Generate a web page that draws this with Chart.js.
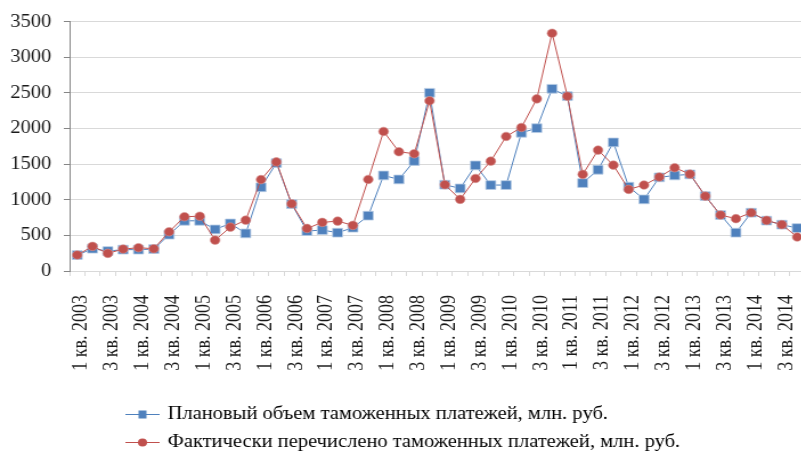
<!DOCTYPE html>
<html>
<head>
<meta charset="utf-8">
<script src="https://cdn.jsdelivr.net/npm/chart.js@4/dist/chart.umd.min.js"></script>
<style>
  html, body { margin: 0; padding: 0; background: #fff; overflow: hidden; }
  /* the reference is slightly wider than tall in its glyphs and marks */
  #wrap { width: 715px; height: 459px; transform: scaleX(1.14); transform-origin: 0 0; }
</style>
</head>
<body>
<div id="wrap"><canvas id="chart" width="715" height="459"></canvas></div>
<script>
// ---- data ----
const quarters = [
  "1 кв. 2003", "2 кв. 2003", "3 кв. 2003", "4 кв. 2003",
  "1 кв. 2004", "2 кв. 2004", "3 кв. 2004", "4 кв. 2004",
  "1 кв. 2005", "2 кв. 2005", "3 кв. 2005", "4 кв. 2005",
  "1 кв. 2006", "2 кв. 2006", "3 кв. 2006", "4 кв. 2006",
  "1 кв. 2007", "2 кв. 2007", "3 кв. 2007", "4 кв. 2007",
  "1 кв. 2008", "2 кв. 2008", "3 кв. 2008", "4 кв. 2008",
  "1 кв. 2009", "2 кв. 2009", "3 кв. 2009", "4 кв. 2009",
  "1 кв. 2010", "2 кв. 2010", "3 кв. 2010", "4 кв. 2010",
  "1 кв. 2011", "2 кв. 2011", "3 кв. 2011", "4 кв. 2011",
  "1 кв. 2012", "2 кв. 2012", "3 кв. 2012", "4 кв. 2012",
  "1 кв. 2013", "2 кв. 2013", "3 кв. 2013", "4 кв. 2013",
  "1 кв. 2014", "2 кв. 2014", "3 кв. 2014", "4 кв. 2014"
];

const planned = [
  224, 313, 280, 300,   300, 308, 510, 705,   705, 584, 668, 528,
  1176, 1515, 940, 561, 575, 538, 608, 777,   1342, 1286, 1545, 2503,
  1212, 1160, 1483, 1207, 1207, 1941, 2006, 2559, 2455, 1235, 1422, 1806,
  1184, 1006, 1315, 1342, 1357, 1052, 786, 538, 819, 707, 651, 603
];

const actual = [
  225, 346, 248, 308,   327, 313, 551, 762,   770, 434, 616, 714,
  1284, 1532, 944, 598, 683, 701, 641, 1286,  1960, 1675, 1647, 2390,
  1212, 1006, 1300, 1543, 1890, 2016, 2418, 3339, 2455, 1357, 1698, 1487,
  1146, 1207, 1320, 1451, 1361, 1052, 786, 735, 819, 711, 651, 477
];

const seriesNames = [
  "Плановый объем таможенных платежей, млн. руб.",
  "Фактически перечислено таможенных платежей, млн. руб."
];

const yTicks = [0, 500, 1000, 1500, 2000, 2500, 3000, 3500];

// ---- styles ----
const BLUE = '#4F81BD';
const RED = '#C0504D';
const FONT = '"Liberation Serif", "Times New Roman", serif';

// legend icon: short line with the marker in the middle
function legendIcon(color, shape) {
  const c = document.createElement('canvas');
  c.width = 30; c.height = 12;
  const g = c.getContext('2d');
  g.strokeStyle = color;
  g.lineWidth = 1;
  g.beginPath(); g.moveTo(0, 6.5); g.lineTo(30, 6.5); g.stroke();
  g.fillStyle = color;
  if (shape === 'rect') {
    g.fillRect(11.5, 2.5, 7, 8);
  } else {
    g.beginPath(); g.arc(15, 6.5, 4, 0, Math.PI * 2); g.fill();
  }
  return c;
}
const icons = [legendIcon(BLUE, 'rect'), legendIcon(RED, 'circle')];

// legend rows start under the plot, left aligned, a bit lower
const legendShift = {
  id: 'legendShift',
  beforeDraw(chart) {
    const lg = chart.legend;
    if (lg && !lg._shifted) {
      lg.left = 102;
      lg.top += 10;
      lg._shifted = true;
    }
  }
};

Chart.defaults.font.family = FONT;
Chart.defaults.font.size = 18;
Chart.defaults.color = '#1a1a1a';

new Chart(document.getElementById('chart'), {
  type: 'line',
  data: {
    labels: quarters,
    datasets: [
      {
        label: seriesNames[0],
        data: planned,
        borderColor: BLUE,
        borderWidth: 1,
        backgroundColor: BLUE,
        pointStyle: 'rect',
        pointRadius: 6.2,
        pointBorderColor: '#b9cde5',
        pointBorderWidth: 0.8,
        tension: 0,
        order: 1
      },
      {
        label: seriesNames[1],
        data: actual,
        borderColor: RED,
        borderWidth: 1,
        backgroundColor: RED,
        pointStyle: 'circle',
        pointRadius: 4.3,
        pointBorderColor: '#d99694',
        pointBorderWidth: 0.6,
        tension: 0,
        order: 0
      }
    ]
  },
  options: {
    responsive: false,
    animation: false,
    layout: { padding: { left: 9, right: 9, top: 16, bottom: 8 } },
    scales: {
      x: {
        offset: true,
        afterFit: function (axis) {
          // no extra side room for the rotated labels, fixed label band
          axis.paddingLeft = 0;
          axis.paddingRight = 0;
          axis.height = 114;
        },
        grid: {
          offset: true,
          drawOnChartArea: false,
          drawTicks: true,
          tickLength: 5,
          tickColor: '#d9d9d9'
        },
        border: { color: '#d9d9d9', width: 1 },
        ticks: {
          autoSkip: false,
          maxRotation: 90,
          minRotation: 90,
          padding: 19,
          labelOffset: 4,
          callback: function (value, index) {
            return index % 2 === 0 ? quarters[index] : '';
          }
        }
      },
      y: {
        min: yTicks[0],
        max: yTicks[yTicks.length - 1],
        afterBuildTicks: function (axis) {
          axis.ticks = yTicks.map(v => ({ value: v }));
        },
        afterFit: function (axis) {
          axis.width = 52;
        },
        grid: {
          color: '#d9d9d9',
          tickLength: 5,
          tickColor: '#868686'
        },
        border: { color: '#868686', width: 1 },
        ticks: {
          padding: 11,
          callback: v => String(v)
        }
      }
    },
    plugins: {
      legend: {
        position: 'bottom',
        align: 'start',
        labels: {
          usePointStyle: true,
          pointStyleWidth: 26,
          padding: 10,
          color: '#1a1a1a',
          sort: (a, b) => a.datasetIndex - b.datasetIndex,
          generateLabels: function (chart) {
            return chart.data.datasets.map((ds, i) => ({
              text: ds.label,
              pointStyle: icons[i],
              fillStyle: ds.borderColor,
              strokeStyle: ds.borderColor,
              lineWidth: 0,
              datasetIndex: i,
              hidden: false
            }));
          }
        }
      },
      tooltip: { enabled: false }
    }
  },
  plugins: [legendShift]
});
</script>
</body>
</html>
